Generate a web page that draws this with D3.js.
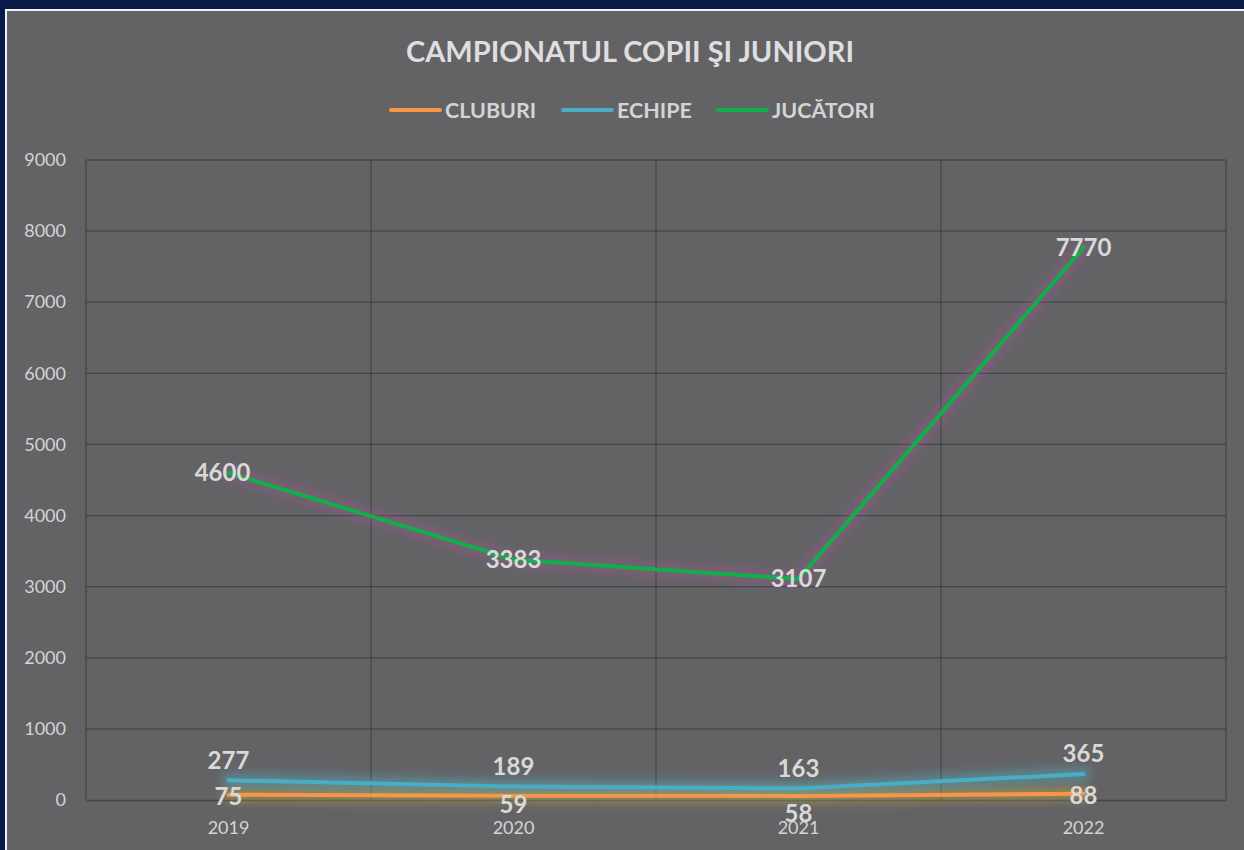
<!DOCTYPE html>
<html>
<head>
<meta charset="utf-8">
<script src="https://cdn.jsdelivr.net/npm/d3@7"></script>
<style>
  html, body { margin: 0; padding: 0; background: #0a1a48; }
  svg { display: block; }
</style>
</head>
<body>
<svg id="chart" width="1244" height="850"></svg>
<script>
// DATA
var years = ["2019", "2020", "2021", "2022"];
var cluburi = [75, 59, 58, 88];
var echipe = [277, 189, 163, 365];
var jucatori = [4600, 3383, 3107, 7770];
var yTicks = [0, 1000, 2000, 3000, 4000, 5000, 6000, 7000, 8000, 9000];

var seriesNames = ["CLUBURI", "ECHIPE", "JUCĂTORI"];

// series setup built from the arrays above
var series = [
    { name: seriesNames[0], values: cluburi, color: "#f79646", glow: "#e8c23a", label: "below" },
    { name: seriesNames[1], values: echipe, color: "#4bacc6", glow: "#45c8e0", label: "above" },
    { name: seriesNames[2], values: jucatori, color: "#0fb04a", glow: "#b0509a", label: "center" }
];

var font = "Lato, 'Open Sans', sans-serif";

var svg = d3.select("#chart");

// panel
svg.append("rect").attr("x", 0).attr("y", 0).attr("width", 1244).attr("height", 850).attr("fill", "#0a1a48");
svg.append("rect").attr("x", 5).attr("y", 9).attr("width", 1239).attr("height", 841).attr("fill", "#f4f4f4");
svg.append("rect").attr("x", 7).attr("y", 11).attr("width", 1237).attr("height", 839).attr("fill", "#636366");

var margin = { left: 86, right: 1226, top: 160, bottom: 800 };

var x = d3.scaleBand()
    .domain(years)
    .range([margin.left, margin.right]);

var y = d3.scaleLinear()
    .domain([0, 9000])
    .range([margin.bottom, margin.top]);

// glow filters
var defs = svg.append("defs");
series.forEach(function(s, i) {
    var f = defs.append("filter").attr("id", "glow" + i)
        .attr("filterUnits", "userSpaceOnUse")
        .attr("x", 0).attr("y", 0).attr("width", 1244).attr("height", 850);
    f.append("feGaussianBlur").attr("in", "SourceGraphic").attr("stdDeviation", 5);
});

// gridlines
var grid = svg.append("g");
grid.selectAll(".hg")
    .data(yTicks.slice(1))
    .enter().append("line")
    .attr("x1", margin.left).attr("x2", margin.right)
    .attr("y1", function(d) { return y(d); })
    .attr("y2", function(d) { return y(d); })
    .attr("stroke", "#454548").attr("stroke-width", 1.3);

grid.selectAll(".vg")
    .data(years.concat(["end"]))
    .enter().append("line")
    .attr("x1", function(d, i) { return margin.left + i * x.bandwidth(); })
    .attr("x2", function(d, i) { return margin.left + i * x.bandwidth(); })
    .attr("y1", margin.top).attr("y2", margin.bottom)
    .attr("stroke", "#454548").attr("stroke-width", 1.3);

// y axis
var yAxis = svg.append("g")
    .attr("transform", "translate(" + (margin.left - 20) + ",0)")
    .call(d3.axisLeft(y).tickValues(yTicks).tickFormat(d3.format("d")).tickSize(0).tickPadding(0));
yAxis.select(".domain").remove();
yAxis.selectAll("text")
    .attr("fill", "#d4d4d4")
    .style("font-family", font)
    .style("font-size", "18px");

// x axis
var xAxis = svg.append("g")
    .attr("transform", "translate(0," + margin.bottom + ")")
    .call(d3.axisBottom(x).tickSize(0).tickPadding(21));
xAxis.select(".domain").attr("stroke", "#454548").attr("stroke-width", 1.6);
xAxis.selectAll("text")
    .attr("fill", "#d4d4d4")
    .style("font-family", font)
    .style("font-size", "18px");

var line = d3.line()
    .x(function(d, i) { return x(years[i]) + x.bandwidth() / 2; })
    .y(function(d) { return y(d); });

// glows
series.forEach(function(s, i) {
    svg.append("path")
        .datum(s.values)
        .attr("d", line)
        .attr("fill", "none")
        .attr("stroke", s.glow)
        .attr("stroke-opacity", 0.35)
        .attr("stroke-width", 14)
        .attr("stroke-linejoin", "round")
        .attr("stroke-linecap", "round")
        .attr("filter", "url(#glow" + i + ")");
});

// lines
series.forEach(function(s) {
    svg.append("path")
        .datum(s.values)
        .attr("d", line)
        .attr("fill", "none")
        .attr("stroke", s.color)
        .attr("stroke-width", 4)
        .attr("stroke-linejoin", "round")
        .attr("stroke-linecap", "round");
});

// data labels
var belowShift = [2, 9, 18, 2];   // Excel put the CLUBURI labels a bit lower in the middle years
series.forEach(function(s) {
    svg.append("g").selectAll("text")
        .data(s.values)
        .enter().append("text")
        .attr("x", function(d, i) { return x(years[i]) + x.bandwidth() / 2 + (s.label == "center" && i == 0 ? -6 : 0); })
        .attr("y", function(d, i) {
            if (s.label == "above") return y(d) - 20;
            if (s.label == "below") return y(d) + belowShift[i];
            return y(d);
        })
        .attr("dy", "0.35em")
        .attr("text-anchor", "middle")
        .attr("fill", "#d9d9d9")
        .style("font-family", font)
        .style("font-size", "24px")
        .style("font-weight", "bold")
        .text(function(d) { return d; });
});

// title
svg.append("text")
    .attr("x", 630).attr("y", 52)
    .attr("dy", "0.35em")
    .attr("text-anchor", "middle")
    .attr("fill", "#dedede")
    .style("font-family", font)
    .style("font-size", "29px")
    .style("font-weight", "bold")
    .text("CAMPIONATUL COPII ŞI JUNIORI");

// legend
var legendX = [391, 563, 718];
var legend = svg.append("g");
series.forEach(function(s, i) {
    var g = legend.append("g").attr("transform", "translate(" + legendX[i] + ",110)");
    g.append("line").attr("x1", 0).attr("x2", 49).attr("y1", 0).attr("y2", 0)
        .attr("stroke", s.color).attr("stroke-width", 4).attr("stroke-linecap", "round");
    g.append("text").attr("x", 54).attr("y", 0).attr("dy", "0.35em")
        .attr("fill", "#d4d4d4")
        .style("font-family", font)
        .style("font-size", "21.5px")
        .style("font-weight", "bold")
        .text(s.name);
});
</script>
</body>
</html>
